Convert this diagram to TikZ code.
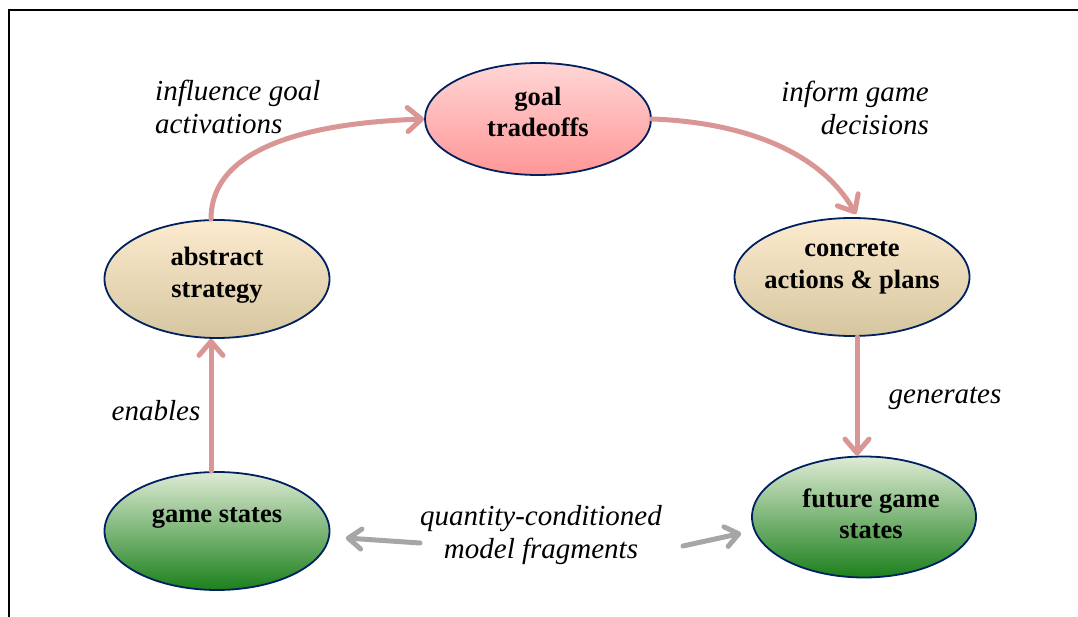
\documentclass[tikz,border=0pt]{standalone}
\usepackage{fontspec}
\setmainfont{Liberation Serif}
\usetikzlibrary{arrows.meta,shapes.geometric,calc}
\definecolor{pinkarrow}{RGB}{217,150,148}
\definecolor{grayarrow}{RGB}{166,166,166}
\definecolor{navyline}{RGB}{0,32,96}
\definecolor{redtop}{RGB}{255,214,214}
\definecolor{redmid}{RGB}{255,128,128}
\definecolor{redbot}{RGB}{255,150,150}
\definecolor{tantop}{RGB}{252,235,206}
\definecolor{tanmid}{RGB}{243,236,218}
\definecolor{tanbot}{RGB}{213,198,160}
\definecolor{grntop}{RGB}{222,235,212}
\definecolor{grnmid}{RGB}{165,198,125}
\definecolor{grnbot}{RGB}{28,128,28}
\tikzset{
  blob/.style={ellipse, draw=navyline, line width=1.8pt, inner sep=0pt},
  redblob/.style={blob, top color=redtop, middle color=redmid, bottom color=redbot},
  tanblob/.style={blob, top color=tantop, middle color=tanmid, bottom color=tanbot},
  grnblob/.style={blob, top color=grntop, middle color=grnmid, bottom color=grnbot},
  ntext/.style={font=\bfseries\fontsize{26.5}{31.5}\selectfont, align=center, inner sep=0pt},
  lbl/.style={font=\itshape\fontsize{29}{33}\selectfont, inner sep=0pt},
  flow/.style={draw=pinkarrow, line width=5pt, line cap=round,
    -{Straight Barb[length=14pt, width=24pt, line cap=round, line join=round]}},
  link/.style={draw=grayarrow, line width=5pt, line cap=round,
    -{Straight Barb[length=13pt, width=20pt, line cap=round, line join=round]}},
}
\begin{document}
\begin{tikzpicture}[x=1pt,y=-1pt]
\useasboundingbox (0,0) rectangle (1078,617);
% frame
\draw[line width=2.5pt] (9,617) -- (9,10) -- (1078,10);

% ellipses
\node[redblob, minimum width=226, minimum height=112] (goal) at (538,119) {};
\node[tanblob, minimum width=225, minimum height=118] (abs) at (217,279) {};
\node[tanblob, minimum width=235, minimum height=118] (con) at (852,277) {};
\node[grnblob, minimum width=225, minimum height=118] (gs) at (217,531) {};
\node[grnblob, minimum width=224, minimum height=121] (fgs) at (864,517) {};

% node texts
\node[ntext] (goalT) at (538,112) {goal\\tradeoffs};
\node[ntext] (absT) at (217,275) {abstract\\strategy};
\node[ntext] (conT) at (852,268) {concrete\\actions \& plans};
\node[ntext] (gsT) at (217,518) {game states};
\node[ntext] (fgsT) at (871,514) {future game\\states};

% labels
\node[lbl, align=left, anchor=west] (l1) at (155,107) {influence goal\\activations};
\node[lbl, align=right, anchor=east] (l2) at (929,108) {inform game\\decisions};
\node[lbl] (l3) at (156,411) {enables};
\node[lbl] (l4) at (945,398) {generates};
\node[lbl, align=center] (l5) at (541,535) {quantity-conditioned\\model fragments};

% pink flow arrows
\draw[flow] ($(abs.north)+(-6,0)$) to[out=90, in=182, looseness=0.9] (goal.west);
\draw[flow] (goal.east) to[out=-2, in=120, looseness=0.9] ($(con.north)+(4,-3)$);
\draw[flow] ($(con.south)+(5,0)$) -- ($(fgs.north -| con.south)+(5,0)$);
\draw[flow] ($(gs.north)+(-6,0)$) -- ($(abs.south)+(-6,0)$);

% gray links
\coordinate (qL) at (420,543);
\coordinate (qR) at (683,546);
\draw[link, shorten >=16pt] (qL) -- (gs.357);
\draw[link, shorten >=13pt] (qR) -- (fgs.187);
\end{tikzpicture}
\end{document}
